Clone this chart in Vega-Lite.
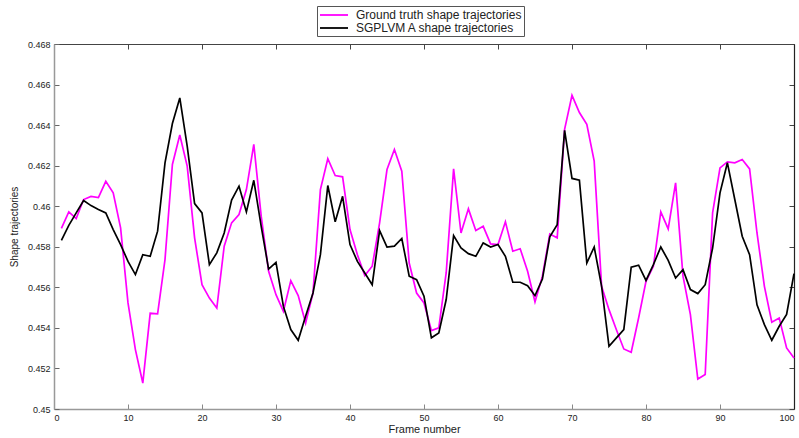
{
  "$schema": "https://vega.github.io/schema/vega-lite/v6.json",
  "width": 740,
  "height": 365,
  "autosize": "none",
  "padding": {"left": 54, "top": 44, "right": 5, "bottom": 29},
  "background": "white",
  "config": {
    "font": "Liberation Sans",
    "view": {"stroke": null},
    "axis": {"grid": false, "labelFont": "Liberation Sans", "titleFont": "Liberation Sans", "labelColor": "#222", "titleColor": "#222", "titleFontWeight": "normal"}
  },
  "data": {"values": [
    {"f":1,"g":0.45891,"s":0.45832},{"f":2,"g":0.45972,"s":0.45906},{"f":3,"g":0.45939,"s":0.45967},{"f":4,"g":0.46033,"s":0.46028},{"f":5,"g":0.46048,"s":0.46003},
    {"f":6,"g":0.46043,"s":0.45984},{"f":7,"g":0.46123,"s":0.45967},{"f":8,"g":0.46066,"s":0.45885},{"f":9,"g":0.45893,"s":0.45811},{"f":10,"g":0.45523,"s":0.45728},
    {"f":11,"g":0.45293,"s":0.45663},{"f":12,"g":0.45128,"s":0.45761},{"f":13,"g":0.45472,"s":0.45753},{"f":14,"g":0.45469,"s":0.45877},{"f":15,"g":0.45737,"s":0.46214},
    {"f":16,"g":0.46206,"s":0.46408},{"f":17,"g":0.46351,"s":0.46534},{"f":18,"g":0.46198,"s":0.46296},{"f":19,"g":0.45844,"s":0.46013},{"f":20,"g":0.45613,"s":0.45967},
    {"f":21,"g":0.45547,"s":0.45712},{"f":22,"g":0.45498,"s":0.4577},{"f":23,"g":0.45803,"s":0.45868},{"f":24,"g":0.45918,"s":0.4603},{"f":25,"g":0.45959,"s":0.46099},
    {"f":26,"g":0.46082,"s":0.45972},{"f":27,"g":0.46305,"s":0.46128},{"f":28,"g":0.45951,"s":0.45901},{"f":29,"g":0.45679,"s":0.4569},{"f":30,"g":0.45564,"s":0.45723},
    {"f":31,"g":0.45482,"s":0.45506},{"f":32,"g":0.45633,"s":0.45392},{"f":33,"g":0.45559,"s":0.45339},{"f":34,"g":0.45424,"s":0.45457},{"f":35,"g":0.45572,"s":0.45572},
    {"f":36,"g":0.46082,"s":0.45761},{"f":37,"g":0.46234,"s":0.46102},{"f":38,"g":0.46151,"s":0.45923},{"f":39,"g":0.46145,"s":0.46049},{"f":40,"g":0.45885,"s":0.45811},
    {"f":41,"g":0.45761,"s":0.45728},{"f":42,"g":0.45658,"s":0.45671},{"f":43,"g":0.45704,"s":0.45613},{"f":44,"g":0.45918,"s":0.4588},{"f":45,"g":0.46181,"s":0.45799},
    {"f":46,"g":0.4628,"s":0.45803},{"f":47,"g":0.46173,"s":0.45841},{"f":48,"g":0.4572,"s":0.45655},{"f":49,"g":0.45572,"s":0.45638},{"f":50,"g":0.45523,"s":0.45556},
    {"f":51,"g":0.45387,"s":0.45351},{"f":52,"g":0.454,"s":0.45375},{"f":53,"g":0.45672,"s":0.4554},{"f":54,"g":0.46184,"s":0.45855},{"f":55,"g":0.45868,"s":0.45794},
    {"f":56,"g":0.45987,"s":0.45766},{"f":57,"g":0.4588,"s":0.45753},{"f":58,"g":0.45901,"s":0.45819},{"f":59,"g":0.45814,"s":0.45799},{"f":60,"g":0.45811,"s":0.45811},
    {"f":61,"g":0.45923,"s":0.45753},{"f":62,"g":0.45778,"s":0.45625},{"f":63,"g":0.4579,"s":0.45625},{"f":64,"g":0.45679,"s":0.45608},{"f":65,"g":0.45528,"s":0.45559},
    {"f":66,"g":0.45655,"s":0.45641},{"f":67,"g":0.45863,"s":0.45849},{"f":68,"g":0.45844,"s":0.45909},{"f":69,"g":0.46379,"s":0.46374},{"f":70,"g":0.46547,"s":0.46137},
    {"f":71,"g":0.46462,"s":0.46128},{"f":72,"g":0.46404,"s":0.4572},{"f":73,"g":0.46222,"s":0.45799},{"f":74,"g":0.45605,"s":0.45605},{"f":75,"g":0.4549,"s":0.45309},
    {"f":76,"g":0.45391,"s":0.45351},{"f":77,"g":0.45296,"s":0.45392},{"f":78,"g":0.4528,"s":0.45699},{"f":79,"g":0.45449,"s":0.45709},{"f":80,"g":0.4563,"s":0.45634},
    {"f":81,"g":0.45704,"s":0.45712},{"f":82,"g":0.45972,"s":0.45799},{"f":83,"g":0.45888,"s":0.45733},{"f":84,"g":0.46115,"s":0.45646},{"f":85,"g":0.45655,"s":0.45687},
    {"f":86,"g":0.45465,"s":0.45589},{"f":87,"g":0.45148,"s":0.45569},{"f":88,"g":0.4517,"s":0.45613},{"f":89,"g":0.45967,"s":0.45794},{"f":90,"g":0.46189,"s":0.46066},
    {"f":91,"g":0.46219,"s":0.46214},{"f":92,"g":0.46214,"s":0.46033},{"f":93,"g":0.4623,"s":0.45852},{"f":94,"g":0.46184,"s":0.45761},{"f":95,"g":0.45868,"s":0.45514},
    {"f":96,"g":0.45605,"s":0.45416},{"f":97,"g":0.45428,"s":0.45339},{"f":98,"g":0.45449,"s":0.45408},{"f":99,"g":0.45301,"s":0.45466},{"f":100,"g":0.45252,"s":0.45668}
  ]},
  "transform": [{"fold": ["g", "s"], "as": ["series", "value"]}],
  "resolve": {"axis": {"x": "independent", "y": "independent"}},
  "layer": [
    {
      "mark": {"type": "line", "strokeWidth": 1.8, "opacity": 0},
      "encoding": {
        "x": {"field": "f", "type": "quantitative", "scale": {"domain": [0, 100], "nice": false},
          "axis": {"orient": "top", "labels": false, "title": null, "values": [0,10,20,30,40,50,60,70,80,90,100], "tickSize": -5, "tickColor": "#444", "domainColor": "#444", "domainWidth": 1.2}},
        "y": {"field": "value", "type": "quantitative", "scale": {"domain": [0.45, 0.468], "nice": false, "zero": false},
          "axis": {"orient": "right", "labels": false, "title": null, "values": [0.45,0.452,0.454,0.456,0.458,0.46,0.462,0.464,0.466,0.468], "tickSize": -5, "tickColor": "#444", "domainColor": "#222", "domainWidth": 1.2}},
        "detail": {"field": "series"}
      }
    },
    {
      "mark": {"type": "line", "strokeWidth": 1.7},
      "encoding": {
        "x": {"field": "f", "type": "quantitative", "scale": {"domain": [0, 100], "nice": false},
          "axis": {"orient": "bottom", "title": "Frame number", "values": [0,10,20,30,40,50,60,70,80,90,100], "tickSize": -5, "labelPadding": 9, "labelFontSize": 9, "titleFontSize": 11, "titlePadding": 1, "tickColor": "#888", "domainColor": "#999", "domainWidth": 1.5}},
        "y": {"field": "value", "type": "quantitative", "scale": {"domain": [0.45, 0.468], "nice": false, "zero": false},
          "axis": {"orient": "left", "title": "Shape trajectories", "format": ".3~f", "values": [0.45,0.452,0.454,0.456,0.458,0.46,0.462,0.464,0.466,0.468], "tickSize": -5, "labelPadding": 9, "labelFontSize": 9, "titleFontSize": 10, "titlePadding": 8, "tickColor": "#666", "domainColor": "#999", "domainWidth": 1.5}},
        "color": {"field": "series", "type": "nominal",
          "scale": {"domain": ["g", "s"], "range": ["#ff00ff", "#000000"]},
          "legend": {"orient": "none", "legendX": 263, "legendY": -38, "title": null, "direction": "vertical",
            "labelExpr": "datum.label == 'g' ? 'Ground truth shape trajectories' : 'SGPLVM A shape trajectories'",
            "symbolType": "M-1,0H3.67", "symbolSize": 144, "symbolStrokeWidth": 1.8, "labelFontSize": 12, "labelLimit": 400, "labelFont": "Liberation Sans", "labelColor": "#222",
            "strokeColor": "#555", "padding": 2, "rowPadding": 0, "fillColor": "white", "labelOffset": 23}}
      }
    }
  ]
}
